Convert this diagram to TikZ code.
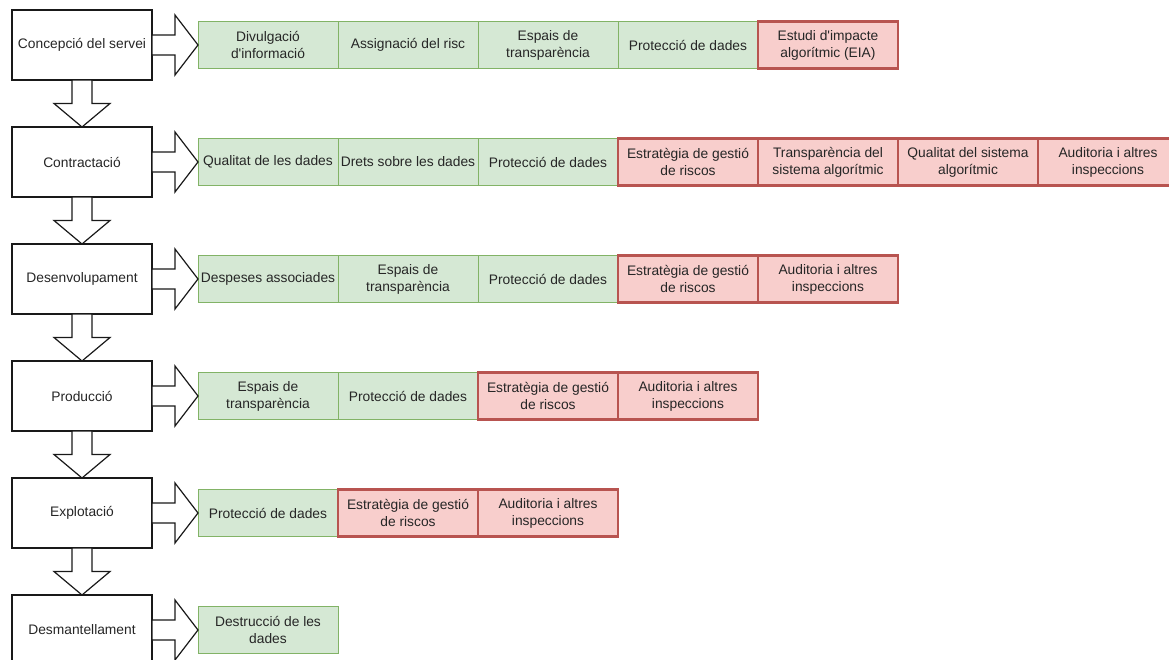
\documentclass[tikz,border=0pt]{standalone}
\usepackage{fontspec}
\setmainfont{Liberation Sans}
\usetikzlibrary{positioning,calc}
\definecolor{okfill}{HTML}{D5E8D4}
\definecolor{okline}{HTML}{82B366}
\definecolor{riskfill}{HTML}{F8CECC}
\definecolor{riskline}{HTML}{B85450}
\newcommand{\rarr}[2]{\draw[blockarrow] let \p1=(#1.east),\p2=(#2.west),\n1={(\x1+\x2)/2} in
  (\x1,\y2+10pt)--(\n1,\y2+10pt)--(\n1,\y2+30pt)--(\p2)--(\n1,\y2-30pt)--(\n1,\y2-10pt)--(\x1,\y2-10pt)--cycle;}
\newcommand{\darr}[2]{\draw[blockarrow] let \p1=(#1.south),\p2=(#2.north),\n1={(\y1+\y2)/2} in
  (\x1-10pt,\y1)--(\x1-10pt,\n1)--(\x1-28pt,\n1)--(\p2)--(\x1+28pt,\n1)--(\x1+10pt,\n1)--(\x1+10pt,\y1)--cycle;}
\begin{document}
\begin{tikzpicture}[x=1pt,y=-1pt,
  every node/.style={font=\fontsize{13.8}{17}\selectfont,text=black!85,align=center,inner sep=0pt,outer sep=0pt},
  stagebox/.style={draw=black!90,line width=1.3pt,fill=white,minimum width=140pt,minimum height=70pt},
  okcell/.style={draw=okline,line width=1pt,fill=okfill,minimum width=140pt,minimum height=47pt},
  riskcell/.style={draw=riskline,line width=2.4pt,fill=riskfill,minimum width=140pt,minimum height=47pt},
  blockarrow/.style={draw=black!90,line width=1.2pt,fill=white,line join=miter}]
\useasboundingbox (0,0) rectangle (1169,659);
\begin{scope}
\node[stagebox](concepcio)at(82,45){Concepció del servei};
\node[okcell,right=46pt of concepcio](c1a){Divulgació\\d\textquotesingle informació};
\node[okcell,right=0pt of c1a](c1b){Assignació del risc};
\node[okcell,right=0pt of c1b](c1c){Espais de\\transparència};
\node[okcell,right=0pt of c1c](c1d){Protecció de dades};
\node[riskcell,right=0pt of c1d](c1e){Estudi d\textquotesingle impacte\\algorítmic (EIA)};
\rarr{concepcio}{c1a}
\end{scope}
\begin{scope}
\node[stagebox](contractacio)at(82,162){Contractació};
\node[okcell,right=46pt of contractacio](c2a){Qualitat de les dades};
\node[okcell,right=0pt of c2a](c2b){Drets sobre les dades};
\node[okcell,right=0pt of c2b](c2c){Protecció de dades};
\node[riskcell,right=0pt of c2c](c2d){Estratègia de gestió\\de riscos};
\node[riskcell,right=0pt of c2d](c2e){Transparència del\\sistema algorítmic};
\node[riskcell,right=0pt of c2e](c2f){Qualitat del sistema\\algorítmic};
\node[riskcell,right=0pt of c2f](c2g){Auditoria i altres\\inspeccions};
\rarr{contractacio}{c2a}
\end{scope}
\begin{scope}
\node[stagebox](desenvolupament)at(82,279){Desenvolupament};
\node[okcell,right=46pt of desenvolupament](c3a){Despeses associades};
\node[okcell,right=0pt of c3a](c3b){Espais de\\transparència};
\node[okcell,right=0pt of c3b](c3c){Protecció de dades};
\node[riskcell,right=0pt of c3c](c3d){Estratègia de gestió\\de riscos};
\node[riskcell,right=0pt of c3d](c3e){Auditoria i altres\\inspeccions};
\rarr{desenvolupament}{c3a}
\end{scope}
\begin{scope}
\node[stagebox](produccio)at(82,396){Producció};
\node[okcell,right=46pt of produccio](c4a){Espais de\\transparència};
\node[okcell,right=0pt of c4a](c4b){Protecció de dades};
\node[riskcell,right=0pt of c4b](c4c){Estratègia de gestió\\de riscos};
\node[riskcell,right=0pt of c4c](c4d){Auditoria i altres\\inspeccions};
\rarr{produccio}{c4a}
\end{scope}
\begin{scope}
\node[stagebox](explotacio)at(82,513){Explotació};
\node[okcell,right=46pt of explotacio](c5a){Protecció de dades};
\node[riskcell,right=0pt of c5a](c5b){Estratègia de gestió\\de riscos};
\node[riskcell,right=0pt of c5b](c5c){Auditoria i altres\\inspeccions};
\rarr{explotacio}{c5a}
\end{scope}
\begin{scope}
\node[stagebox](desmantellament)at(82,630){Desmantellament};
\node[okcell,right=46pt of desmantellament](c6a){Destrucció de les\\dades};
\rarr{desmantellament}{c6a}
\end{scope}
\darr{concepcio}{contractacio}
\darr{contractacio}{desenvolupament}
\darr{desenvolupament}{produccio}
\darr{produccio}{explotacio}
\darr{explotacio}{desmantellament}
\end{tikzpicture}
\end{document}
